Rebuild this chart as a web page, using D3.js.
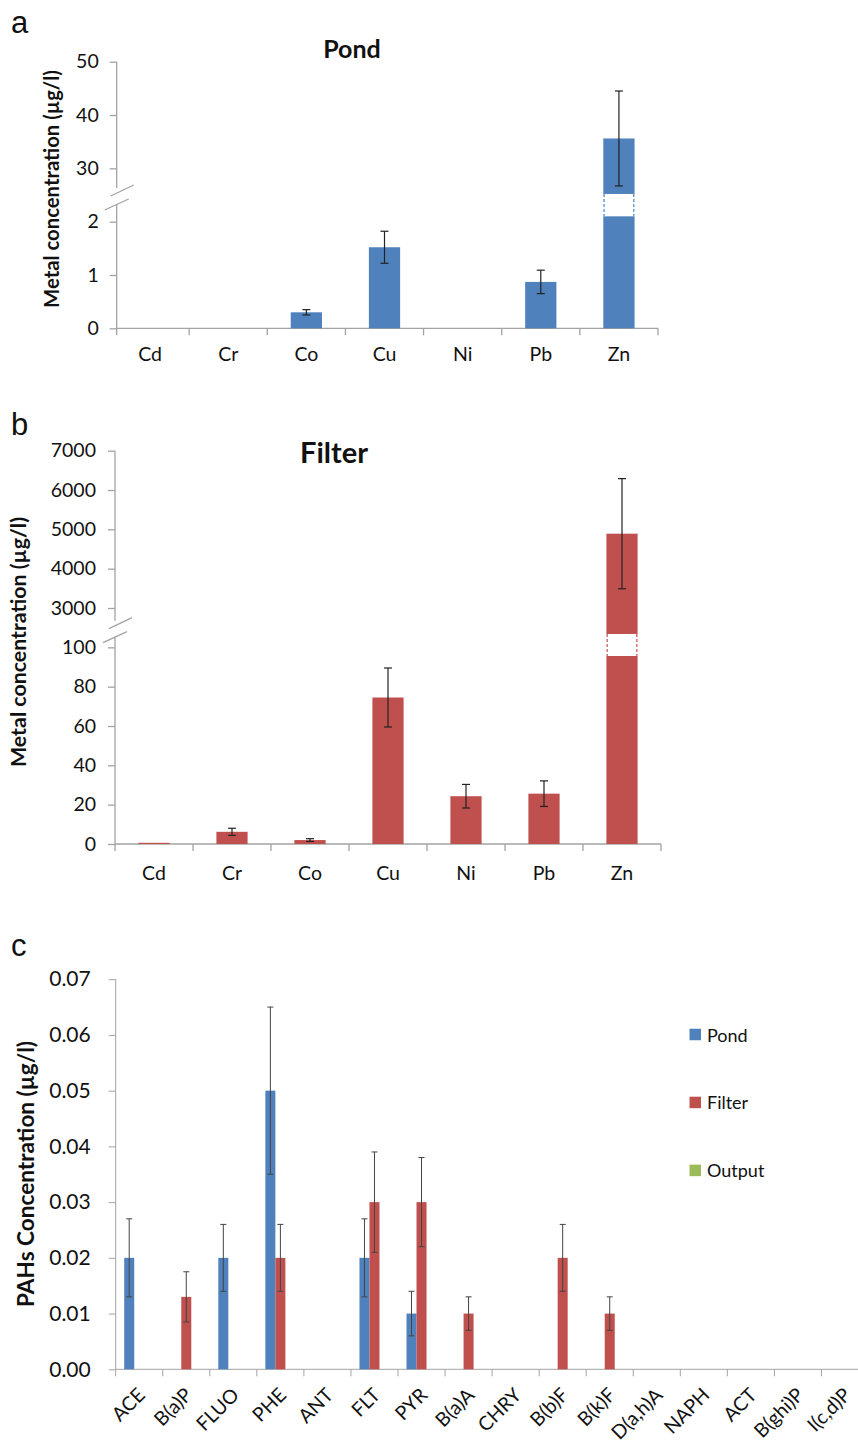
<!DOCTYPE html>
<html>
<head>
<meta charset="utf-8">
<script src="https://cdn.jsdelivr.net/npm/d3@7"></script>
<style>
  body { margin: 0; background: #fff; }
  svg { display: block; font-family: Lato, "Open Sans", sans-serif; }
</style>
</head>
<body>
<svg id="fig" width="858" height="1452"></svg>
<script>
// ---- metals (µg/l) ----
const metals = ["Cd", "Cr", "Co", "Cu", "Ni", "Pb", "Zn"];
const pondMetal    = [0, 0, 0.30, 1.52, 0, 0.87, 35.6];
const pondMetalErr = [0, 0, 0.05, 0.30, 0, 0.22, 8.9];
const filterMetal    = [0.6, 6.2, 2.0, 74.5, 24.3, 25.6, 4890];
const filterMetalErr = [0, 1.8, 0.7, 15.0, 6.0, 6.5, 1400];

const pondTicksLow  = [0, 1, 2];
const pondTicksHigh = [30, 40, 50];
const filterTicksLow  = [0, 20, 40, 60, 80, 100];
const filterTicksHigh = [3000, 4000, 5000, 6000, 7000];

// ---- PAHs (µg/l) ----
const pahs = ["ACE", "B(a)P", "FLUO", "PHE", "ANT", "FLT", "PYR", "B(a)A", "CHRY",
              "B(b)F", "B(k)F", "D(a,h)A", "NAPH", "ACT", "B(ghi)P", "I(c,d)P"];
const pahPond      = [0.02, 0, 0.02, 0.05, 0, 0.02, 0.01, 0, 0, 0, 0, 0, 0, 0, 0, 0];
const pahPondErr   = [0.007, 0, 0.006, 0.015, 0, 0.007, 0.004, 0, 0, 0, 0, 0, 0, 0, 0, 0];
const pahFilter    = [0, 0.013, 0, 0.02, 0, 0.03, 0.03, 0.01, 0, 0.02, 0.01, 0, 0, 0, 0, 0];
const pahFilterErr = [0, 0.0045, 0, 0.006, 0, 0.009, 0.008, 0.003, 0, 0.006, 0.003, 0, 0, 0, 0, 0];
const pahOutput    = [0, 0, 0, 0, 0, 0, 0, 0, 0, 0, 0, 0, 0, 0, 0, 0];
const pahOutputErr = [0, 0, 0, 0, 0, 0, 0, 0, 0, 0, 0, 0, 0, 0, 0, 0];
const pahTicks = [0, 0.01, 0.02, 0.03, 0.04, 0.05, 0.06, 0.07];
const seriesNames = ["Pond", "Filter", "Output"];

const COLORS = { Pond: "#4F81BD", Filter: "#C0504D", Output: "#9BBB59" };
const AXIS = "#A3A3A3";
const svg = d3.select("#fig");

// shrink/grow a text node's font so that it spans a given length
function fitLength(sel, len) {
  const node = sel.node();
  const fs = parseFloat(sel.attr("font-size"));
  const w = node.getComputedTextLength();
  if (w > 0) sel.attr("font-size", (fs * len / w).toFixed(2));
}

function panelLetter(txt, x, y) {
  svg.append("text").attr("x", x).attr("y", y)
    .attr("font-family", "'Liberation Sans', Arial, sans-serif")
    .attr("font-size", 31).attr("fill", "#111").text(txt);
}

function yTitle(txt, cx, cy, len, size) {
  const t = svg.append("text")
    .attr("transform", `translate(${cx},${cy}) rotate(-90)`)
    .attr("text-anchor", "middle").attr("dominant-baseline", "central")
    .attr("font-weight", 700).attr("font-size", size).attr("fill", "#111")
    .text(txt);
  fitLength(t, len);
}

// Metal bar chart with a broken value axis
function brokenBars(o) {
  const g = svg.append("g");
  const nLow = o.lowTicks.length - 1, nHigh = o.highTicks.length - 1;
  const step = (o.yBottom - o.yTop) / (nLow + 1 + nHigh);
  const lowMax = o.lowTicks[nLow];
  const low = d3.scaleLinear().domain([o.lowTicks[0], lowMax])
    .range([o.yBottom, o.yBottom - nLow * step]);
  const high = d3.scaleLinear().domain([o.highTicks[0], o.highTicks[nHigh]])
    .range([o.yTop + nHigh * step, o.yTop]);
  const y = v => (v <= lowMax ? low(v) : high(v));
  const x = d3.scaleBand().domain(o.cats).range(o.xRange);
  const bw = x.bandwidth() * 0.4;
  const yBreak = (low(lowMax) + high(o.highTicks[0])) / 2;
  const ax = o.axisX;

  // value axis (two pieces with a gap)
  g.append("line").attr("x1", ax).attr("x2", ax).attr("y1", o.yTop).attr("y2", yBreak - 7)
    .attr("stroke", AXIS).attr("stroke-width", 1.3);
  g.append("line").attr("x1", ax).attr("x2", ax).attr("y1", yBreak + 9).attr("y2", o.yBottom + 7)
    .attr("stroke", AXIS).attr("stroke-width", 1.3);
  // break marks
  [[-6, 1, 17, -10], [-12, 15, 12, 4]].forEach(d => {
    g.append("line").attr("x1", ax + d[0]).attr("y1", yBreak + d[1])
      .attr("x2", ax + d[2]).attr("y2", yBreak + d[3])
      .attr("stroke", AXIS).attr("stroke-width", 1.3);
  });

  const fmt = d3.format("d");
  [[low, o.lowTicks], [high, o.highTicks]].forEach(([sc, tv]) => {
    const a = g.append("g").attr("transform", `translate(${ax},0)`)
      .call(d3.axisLeft(sc).tickValues(tv).tickFormat(fmt).tickSize(7).tickPadding(o.tickPad).tickSizeOuter(0));
    a.select(".domain").remove();
    a.selectAll(".tick line").attr("stroke", AXIS).attr("stroke-width", 1.3);
    a.selectAll(".tick text").attr("font-size", 19.5).attr("fill", "#111")
      .attr("font-family", "Lato, sans-serif");
  });

  // category axis
  g.append("line").attr("x1", ax).attr("x2", o.xRange[1]).attr("y1", o.yBottom).attr("y2", o.yBottom)
    .attr("stroke", AXIS).attr("stroke-width", 1.3);
  o.cats.forEach((c, i) => {
    const bx = x(c) + x.step();
    g.append("line").attr("x1", bx).attr("x2", bx).attr("y1", o.yBottom).attr("y2", o.yBottom + 7)
      .attr("stroke", AXIS).attr("stroke-width", 1.3);
    g.append("text").attr("x", x(c) + x.bandwidth() / 2).attr("y", o.yBottom + o.labelDy)
      .attr("text-anchor", "middle").attr("font-size", 19.5).attr("fill", "#111").text(c);
  });

  // bars
  o.values.forEach((v, i) => {
    if (v <= 0) return;
    const c = o.cats[i];
    const bx = x(c) + (x.bandwidth() - bw) / 2;
    g.append("rect").attr("x", bx).attr("y", y(v)).attr("width", bw)
      .attr("height", o.yBottom - y(v)).attr("fill", o.color);
    if (v > lowMax) {
      const g0 = low(o.gapVals[1]), g1 = low(o.gapVals[0]);
      g.append("rect").attr("x", bx - 0.5).attr("y", g0).attr("width", bw + 1)
        .attr("height", g1 - g0).attr("fill", "#fff");
      [bx + 0.75, bx + bw - 0.75].forEach(ex => {
        g.append("line").attr("x1", ex).attr("x2", ex).attr("y1", g0).attr("y2", g1)
          .attr("stroke", o.color).attr("stroke-width", 1.2).attr("stroke-dasharray", "3,2");
      });
    }
    const e = o.errs[i];
    if (e > 0) {
      const cx = x(c) + x.bandwidth() / 2;
      const y1 = y(v + e), y2 = y(v - e);
      g.append("line").attr("x1", cx).attr("x2", cx).attr("y1", y1).attr("y2", y2)
        .attr("stroke", "#222").attr("stroke-width", 1.2);
      [y1, y2].forEach(yy => g.append("line").attr("x1", cx - 4).attr("x2", cx + 4)
        .attr("y1", yy).attr("y2", yy).attr("stroke", "#222").attr("stroke-width", 1.2));
    }
  });

  svg.append("text").attr("x", o.titleX).attr("y", o.titleY).attr("text-anchor", "middle")
    .attr("font-weight", 700).attr("font-size", o.titleSize).attr("fill", "#111").text(o.title);
}

// ---- panel a: Pond ----
panelLetter("a", 11, 33);
brokenBars({
  cats: metals, values: pondMetal, errs: pondMetalErr, color: COLORS.Pond,
  lowTicks: pondTicksLow, highTicks: pondTicksHigh,
  yBottom: 328.3, yTop: 61.7, axisX: 116.7, xRange: [111, 658],
  gapVals: [2.1, 2.52], tickPad: 11, labelDy: 33,
  title: "Pond", titleX: 352, titleY: 58, titleSize: 25
});
yTitle("Metal concentration (µg/l)", 51, 189, 238, 17.5);

// ---- panel b: Filter ----
panelLetter("b", 11, 435);
brokenBars({
  cats: metals, values: filterMetal, errs: filterMetalErr, color: COLORS.Filter,
  lowTicks: filterTicksLow, highTicks: filterTicksHigh,
  yBottom: 844, yTop: 450.7, axisX: 115, xRange: [115, 661],
  gapVals: [95.6, 106.8], tickPad: 12, labelDy: 36,
  title: "Filter", titleX: 334, titleY: 463, titleSize: 29
});
yTitle("Metal concentration (µg/l)", 17.5, 642, 250, 17.5);

// ---- panel c: PAHs grouped bars ----
panelLetter("c", 11, 956);
(function () {
  const g = svg.append("g");
  const yBottom = 1369.3, yTop = 979.2, ax = 115.7;
  const y = d3.scaleLinear().domain([0, 0.07]).range([yBottom, yTop]);
  const x = d3.scaleBand().domain(pahs).range([115.7, 115.7 + 16 * 47.05]);
  const sub = d3.scaleBand().domain(seriesNames)
    .range([0, x.bandwidth()]).paddingOuter(0.85);
  const vals = { Pond: pahPond, Filter: pahFilter, Output: pahOutput };
  const errs = { Pond: pahPondErr, Filter: pahFilterErr, Output: pahOutputErr };

  g.append("line").attr("x1", ax).attr("x2", ax).attr("y1", yTop).attr("y2", yBottom + 7)
    .attr("stroke", AXIS).attr("stroke-width", 1);
  const a = g.append("g").attr("transform", `translate(${ax},0)`)
    .call(d3.axisLeft(y).tickValues(pahTicks).tickFormat(d3.format(".2f"))
      .tickSize(7).tickPadding(18).tickSizeOuter(0));
  a.select(".domain").remove();
  a.selectAll(".tick line").attr("stroke", AXIS);
  a.selectAll(".tick text").attr("font-size", 21).attr("fill", "#111")
    .attr("font-family", "Lato, sans-serif");

  g.append("line").attr("x1", ax).attr("x2", 858).attr("y1", yBottom).attr("y2", yBottom)
    .attr("stroke", AXIS).attr("stroke-width", 1);
  pahs.forEach(c => {
    const bx = x(c) + x.step();
    g.append("line").attr("x1", bx).attr("x2", bx).attr("y1", yBottom).attr("y2", yBottom + 7)
      .attr("stroke", AXIS);
    const cx = x(c) + x.bandwidth() / 2;
    g.append("text").attr("transform", `translate(${cx + 7},${yBottom + 27}) rotate(-45)`)
      .attr("text-anchor", "end").attr("font-size", 19.5).attr("fill", "#111").text(c);
  });

  seriesNames.forEach(s => {
    vals[s].forEach((v, i) => {
      if (v <= 0) return;
      const c = pahs[i];
      const bx = x(c) + sub(s);
      g.append("rect").attr("x", bx).attr("y", y(v)).attr("width", sub.bandwidth())
        .attr("height", yBottom - y(v)).attr("fill", COLORS[s]);
      const e = errs[s][i];
      if (e > 0) {
        const cx = bx + sub.bandwidth() / 2;
        const y1 = y(v + e), y2 = y(v - e);
        g.append("line").attr("x1", cx).attr("x2", cx).attr("y1", y1).attr("y2", y2)
          .attr("stroke", "#444").attr("stroke-width", 1);
        [y1, y2].forEach(yy => g.append("line").attr("x1", cx - 3).attr("x2", cx + 3)
          .attr("y1", yy).attr("y2", yy).attr("stroke", "#444").attr("stroke-width", 1));
      }
    });
  });

  // legend
  const ly = d3.scalePoint().domain(seriesNames).range([1034.5, 1170.4]);
  seriesNames.forEach(s => {
    svg.append("rect").attr("x", 689.5).attr("y", ly(s) - 5.75).attr("width", 11.5)
      .attr("height", 11.5).attr("fill", COLORS[s]);
    svg.append("text").attr("x", 707).attr("y", ly(s)).attr("dominant-baseline", "central")
      .attr("font-size", 18).attr("fill", "#111").text(s);
  });
})();
yTitle("PAHs Concentration (µg/l)", 25, 1174, 266, 19);
</script>
</body>
</html>
